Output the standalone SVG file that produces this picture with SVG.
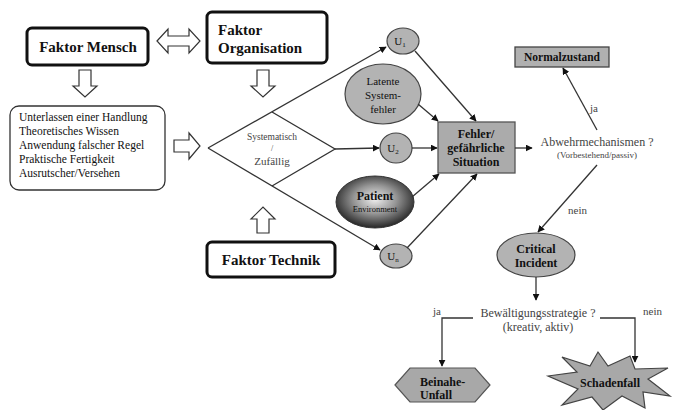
<svg xmlns="http://www.w3.org/2000/svg" width="673" height="410" viewBox="0 0 673 410" font-family="'Liberation Serif', 'DejaVu Serif', serif">
<defs>
<style>
text{font-family:'Liberation Serif','DejaVu Serif',serif;fill:#111}
.b{font-weight:bold}
.fbox{fill:#fff;stroke:#111;stroke-width:3}
.hollow{fill:#fff;stroke:#333;stroke-width:1.2}
.gray{fill:#b3b3b3;stroke:#444;stroke-width:1.2}
.ln{fill:none;stroke:#333;stroke-width:1.3}
.arr{marker-end:url(#ah)}
.dim{fill:#444}
</style>
<marker id="ah" viewBox="0 0 10 10" refX="9" refY="5" markerWidth="7" markerHeight="7" markerUnits="userSpaceOnUse" orient="auto">
<path d="M0,0 L10,5 L0,10 Z" fill="#111"/>
</marker>
<radialGradient id="pg" cx="50%" cy="45%" r="55%">
<stop offset="0" stop-color="#eeeeee"/>
<stop offset="0.5" stop-color="#959595"/>
<stop offset="1" stop-color="#262626"/>
</radialGradient>
</defs>

<g id="faktor-mensch">
<rect class="fbox" x="27" y="28" width="121" height="37" rx="5"/>
<text class="b" x="88" y="52" font-size="15" text-anchor="middle">Faktor Mensch</text>
</g>
<g id="faktor-organisation">
<rect class="fbox" x="207" y="12" width="120" height="51" rx="5"/>
<text class="b" x="218" y="35" font-size="15">Faktor</text>
<text class="b" x="218" y="53" font-size="15">Organisation</text>
</g>
<g id="faktor-technik">
<rect class="fbox" x="207" y="242" width="128" height="35" rx="5"/>
<text class="b" x="271" y="265" font-size="15" text-anchor="middle">Faktor Technik</text>
</g>
<g id="fehlerarten">
<rect x="10" y="106" width="155" height="84" rx="9" fill="#fff" stroke="#333" stroke-width="1.3"/>
<text x="19" y="121" font-size="11.5">Unterlassen einer Handlung</text>
<text x="19" y="135" font-size="11.5">Theoretisches Wissen</text>
<text x="19" y="149" font-size="11.5">Anwendung falscher Regel</text>
<text x="19" y="163" font-size="11.5">Praktische Fertigkeit</text>
<text x="19" y="177" font-size="11.5">Ausrutscher/Versehen</text>
</g>
<g id="hollow-arrows">
<path class="hollow" d="M157,41 L168,29 V36 H189 V29 L200,41 L189,53 V46 H168 V53 Z"/>
<path class="hollow" d="M79,70 H91 V86 H97 L85,97 L73,86 H79 Z"/>
<path class="hollow" d="M257,70 H269 V86 H275 L263,97 L251,86 H257 Z"/>
<path class="hollow" d="M257,233 V219 H251 L263,207 L275,219 H269 V233 Z"/>
<path class="hollow" d="M174,140 H189 V133 L200,146 L189,159 V152 H174 Z"/>
</g>
<g id="systematisch-zufaellig">
<text x="272" y="140" font-size="9.5" text-anchor="middle" class="dim">Systematisch</text>
<text x="272" y="151" font-size="8" text-anchor="middle" class="dim">/</text>
<text x="272" y="165" font-size="11" text-anchor="middle" class="dim">Zufällig</text>
</g>
<g id="u1">
<ellipse class="gray" cx="403" cy="41" rx="16" ry="13"/>
<text x="400" y="45" font-size="11" text-anchor="middle">U<tspan font-size="7" dy="2">1</tspan></text>
</g>
<g id="latente-systemfehler">
<ellipse class="gray" cx="383" cy="94" rx="38" ry="30"/>
<text x="383" y="85" font-size="11" text-anchor="middle">Latente</text>
<text x="383" y="99" font-size="11" text-anchor="middle">System-</text>
<text x="383" y="113" font-size="11" text-anchor="middle">fehler</text>
</g>
<g id="u2">
<ellipse class="gray" cx="396" cy="148" rx="16" ry="15"/>
<text x="393" y="152" font-size="11" text-anchor="middle">U<tspan font-size="7" dy="2">2</tspan></text>
</g>
<g id="patient">
<ellipse cx="375" cy="202" rx="39" ry="26" fill="url(#pg)" stroke="#333" stroke-width="1"/>
<text class="b" x="375" y="200" font-size="12" text-anchor="middle">Patient</text>
<text x="375" y="212" font-size="8.5" text-anchor="middle" fill="#333">Environment</text>
</g>
<g id="un">
<ellipse class="gray" cx="396" cy="256" rx="16" ry="12"/>
<text x="393" y="260" font-size="11" text-anchor="middle">U<tspan font-size="7" dy="2">n</tspan></text>
</g>
<g id="fehler-situation">
<rect x="438" y="122" width="77" height="51" fill="#ababab" stroke="#555" stroke-width="1.3"/>
<text class="b" x="476" y="138" font-size="12" text-anchor="middle">Fehler/</text>
<text class="b" x="476" y="152" font-size="12" text-anchor="middle">gefährliche</text>
<text class="b" x="476" y="166" font-size="12" text-anchor="middle">Situation</text>
</g>
<g id="abwehrmechanismen">
<text x="597" y="146" font-size="12" text-anchor="middle" class="dim">Abwehrmechanismen ?</text>
<text x="597" y="158" font-size="9" text-anchor="middle" class="dim">(Vorbestehend/passiv)</text>
</g>
<g id="normalzustand">
<rect x="515" y="47" width="94" height="20" fill="#b0b0b0" stroke="#444" stroke-width="1.3"/>
<text class="b" x="562" y="61" font-size="11.5" text-anchor="middle">Normalzustand</text>
</g>
<g id="critical-incident">
<ellipse class="gray" cx="536" cy="255" rx="39" ry="22"/>
<text class="b" x="536" y="253" font-size="12" text-anchor="middle">Critical</text>
<text class="b" x="536" y="267" font-size="12" text-anchor="middle">Incident</text>
</g>
<g id="bewaeltigungsstrategie">
<text x="538" y="317" font-size="12" text-anchor="middle" class="dim">Bewältigungsstrategie ?</text>
<text x="538" y="331" font-size="12" text-anchor="middle" class="dim">(kreativ, aktiv)</text>
</g>
<g id="beinahe-unfall">
<polygon points="395,385 410,368 475,368 490,385 475,402 410,402" fill="#a8a8a8" stroke="#555" stroke-width="1.2"/>
<text class="b" x="420" y="386" font-size="12">Beinahe-</text>
<text class="b" x="420" y="399" font-size="12">Unfall</text>
</g>
<g id="schadenfall">
<polygon points="548,376 577,372 562,357 590,366 598,352 608,366 630,356 635,369 668,368 648,379 670,396 643,392 645,408 622,396 603,410 592,397 562,405 578,389" fill="#a8a8a8" stroke="#444" stroke-width="1.2"/>
<text class="b" x="610" y="387" font-size="12" text-anchor="middle">Schadenfall</text>
</g>

<g id="connectors">
<line class="ln arr" x1="208" y1="148" x2="386" y2="47"/>
<line class="ln arr" x1="208" y1="148" x2="380" y2="250"/>
<polyline class="ln" points="272,112 335,149 272,186"/>
<line class="ln arr" x1="335" y1="149" x2="379" y2="148"/>
<line class="ln arr" x1="415" y1="51" x2="476" y2="121"/>
<line class="ln arr" x1="418" y1="104" x2="438" y2="121"/>
<line class="ln arr" x1="412" y1="148" x2="437" y2="148"/>
<line class="ln arr" x1="412" y1="197" x2="439" y2="174"/>
<line class="ln arr" x1="407" y1="248" x2="477" y2="174"/>
<line class="ln arr" x1="515" y1="148" x2="532" y2="148"/>
<line class="ln arr" x1="597" y1="130" x2="563" y2="68"/>
<line class="ln arr" x1="597" y1="165" x2="538" y2="232"/>
<line class="ln arr" x1="536" y1="277" x2="536" y2="300"/>
<polyline class="ln arr" points="473,318 442,318 442,366"/>
<polyline class="ln arr" points="600,318 635,318 635,362"/>
<text x="590" y="112" font-size="11" class="dim">ja</text>
<text x="568" y="214" font-size="11" class="dim">nein</text>
<text x="433" y="315" font-size="11" class="dim">ja</text>
<text x="643" y="315" font-size="11" class="dim">nein</text>
</g>
</svg>
